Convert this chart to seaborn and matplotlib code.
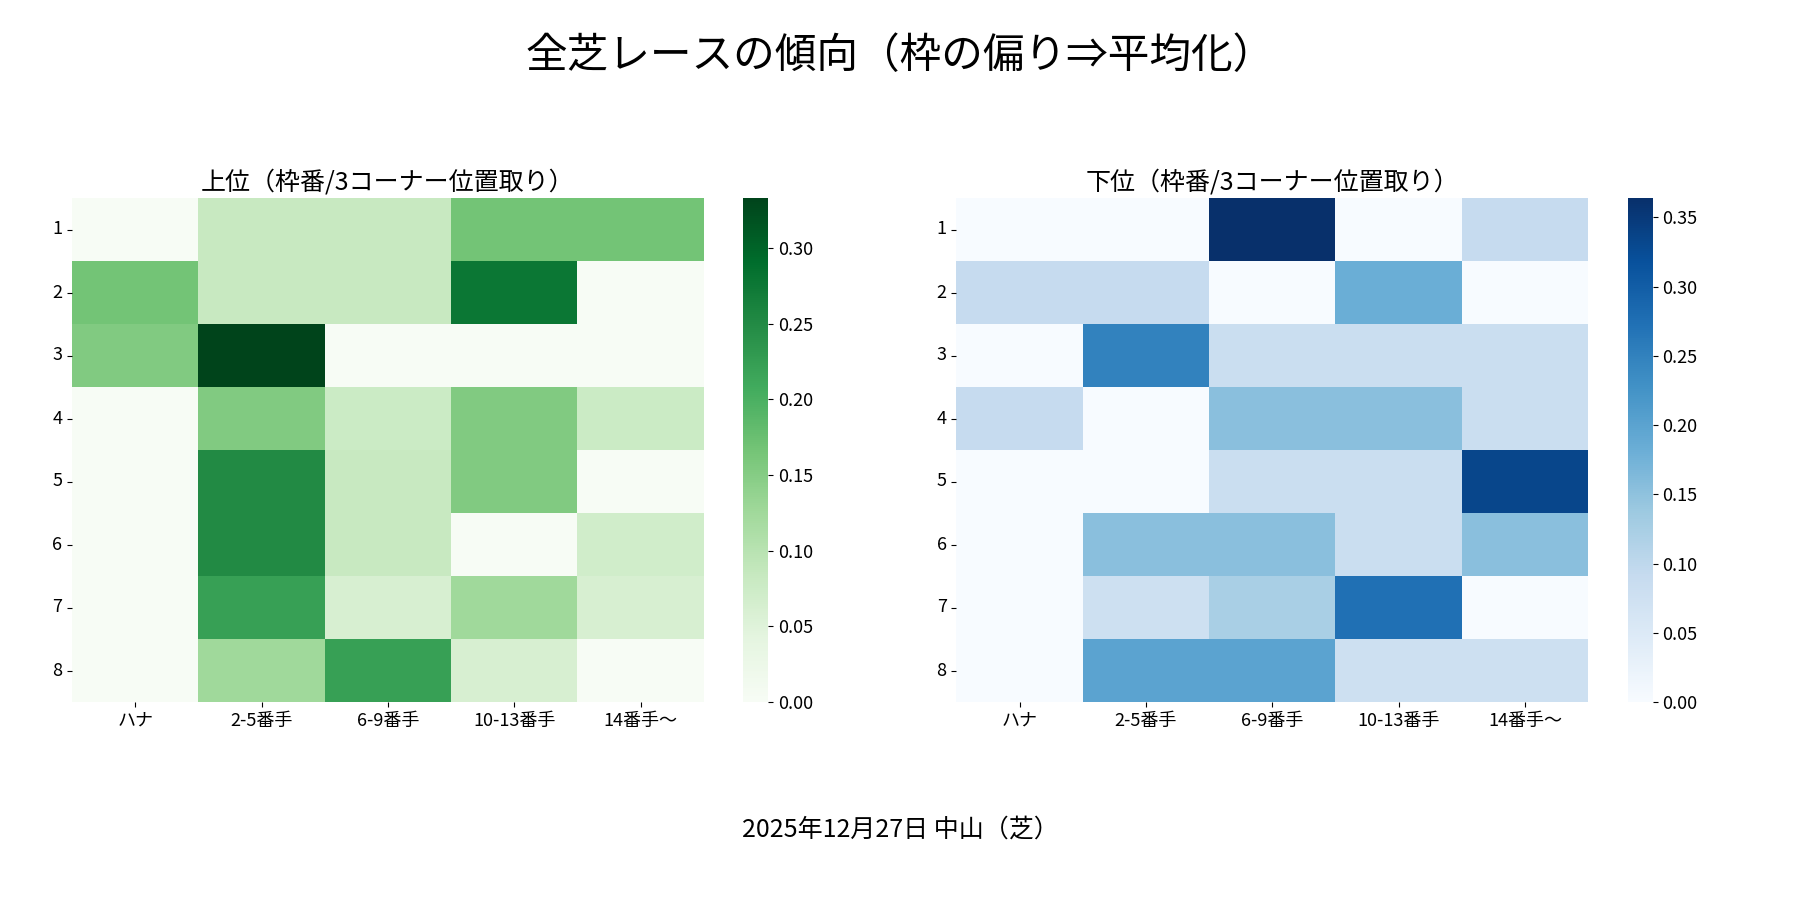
import numpy as np
import pandas as pd
import matplotlib
matplotlib.use("Agg")
import matplotlib.pyplot as plt
import seaborn as sns

plt.rcParams['font.family'] = ['Noto Sans CJK JP', 'DejaVu Sans']

rows = ['1', '2', '3', '4', '5', '6', '7', '8']
cols = ['ハナ', '2-5番手', '6-9番手', '10-13番手', '14番手〜']

top_vals = [
    [0.000, 0.083, 0.083, 0.167, 0.167],
    [0.167, 0.083, 0.083, 0.278, 0.000],
    [0.154, 0.333, 0.000, 0.000, 0.000],
    [0.000, 0.154, 0.077, 0.154, 0.077],
    [0.000, 0.250, 0.083, 0.154, 0.000],
    [0.000, 0.250, 0.083, 0.000, 0.071],
    [0.000, 0.222, 0.062, 0.125, 0.062],
    [0.000, 0.125, 0.222, 0.062, 0.000],
]
bottom_vals = [
    [0.000, 0.000, 0.364, 0.000, 0.091],
    [0.091, 0.091, 0.000, 0.182, 0.000],
    [0.000, 0.250, 0.083, 0.083, 0.083],
    [0.091, 0.000, 0.154, 0.154, 0.083],
    [0.000, 0.000, 0.083, 0.083, 0.333],
    [0.000, 0.154, 0.154, 0.083, 0.154],
    [0.000, 0.077, 0.125, 0.273, 0.000],
    [0.000, 0.200, 0.200, 0.077, 0.077],
]

df_top = pd.DataFrame(top_vals, index=rows, columns=cols)
df_bot = pd.DataFrame(bottom_vals, index=rows, columns=cols)

fig, axes = plt.subplots(1, 2, figsize=(18, 9), dpi=100)
sns.heatmap(df_top, cmap='Greens', ax=axes[0])
sns.heatmap(df_bot, cmap='Blues', ax=axes[1])

axes[0].set_title('上位（枠番/3コーナー位置取り）', fontsize=18)
axes[1].set_title('下位（枠番/3コーナー位置取り）', fontsize=18)
for ax in axes:
    ax.tick_params(labelsize=13)
    ax.set_yticklabels(ax.get_yticklabels(), rotation=0)
    ax.collections[0].colorbar.ax.tick_params(labelsize=13)

fig.suptitle('全芝レースの傾向（枠の偏り⇒平均化）', fontsize=30, y=0.96)
fig.text(0.5, 0.07, '2025年12月27日 中山（芝）', ha='center', fontsize=18)
plt.subplots_adjust(left=0.04, right=0.97, top=0.78, bottom=0.22, wspace=0.12)
plt.savefig('out.png')
plt.close()
